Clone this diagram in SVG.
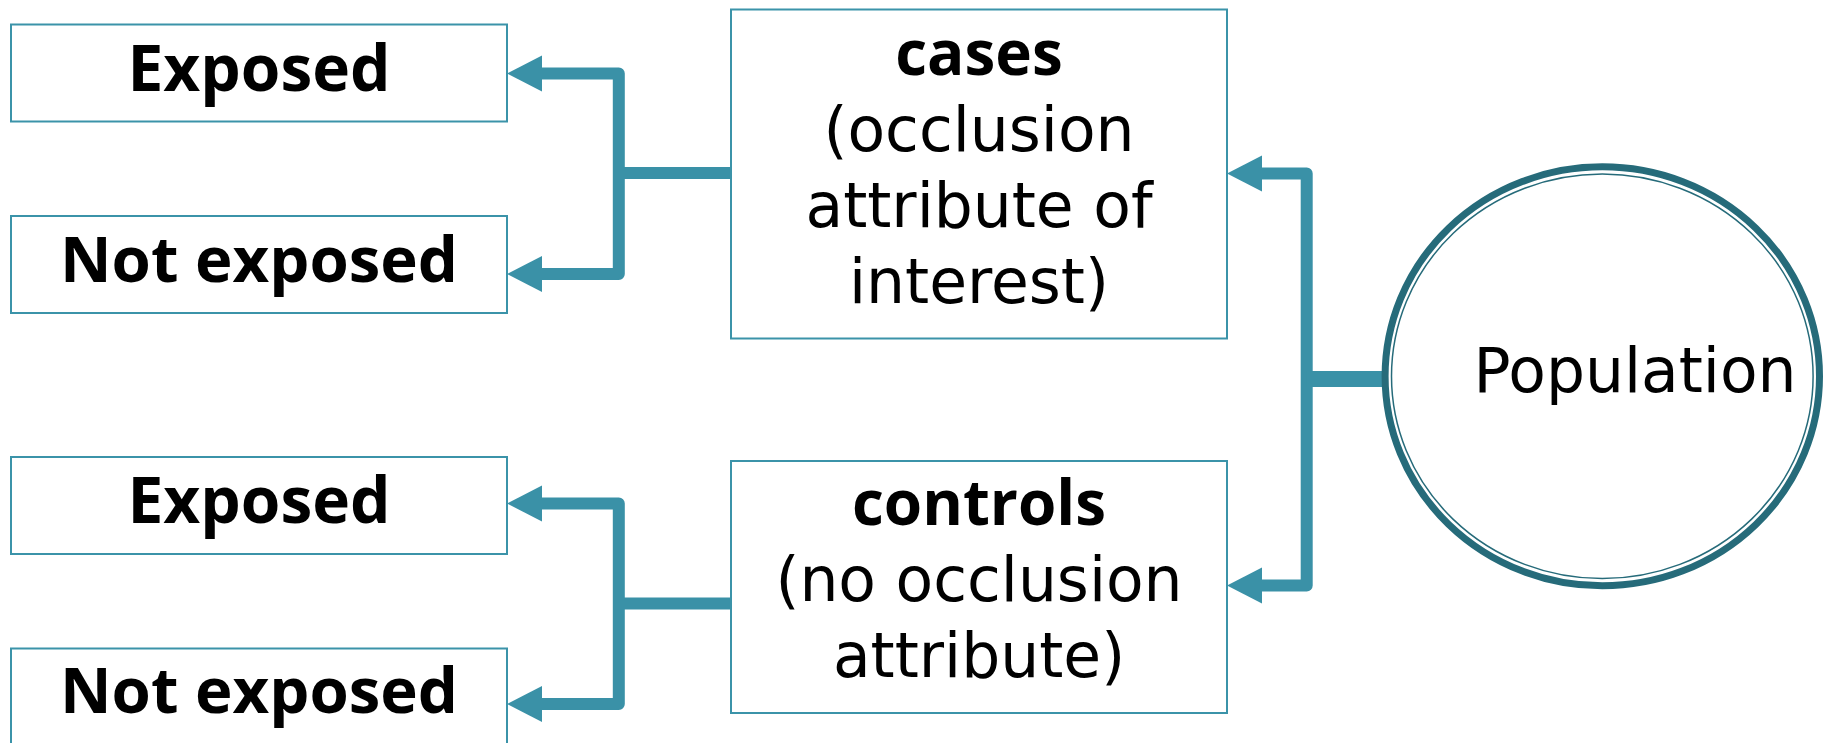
<svg xmlns="http://www.w3.org/2000/svg" width="1829" height="743" viewBox="0 0 1829 743">
  <style>
    .box { fill: #ffffff; stroke: #3b93a9; stroke-width: 2; }
    .wire { fill: none; stroke: #3a91a7; stroke-width: 12; stroke-linejoin: round; }
    .head { fill: #3a91a7; }
    .bold { font-family: "Open Sans", "Noto Sans", sans-serif; font-weight: 700; fill: #000000; text-anchor: middle; }
    .reg { font-family: "DejaVu Sans", "Noto Sans", sans-serif; font-weight: 400; fill: #000000; text-anchor: middle; font-size: 61.5px; }
  </style>
  <defs>
    <!-- left-pointing arrowhead, tip at origin -->
    <path id="head" d="M0 0 L35 -18 L35 18 Z"/>
  </defs>

  <rect width="1829" height="743" fill="#ffffff"/>

  <!-- connectors -->
  <g id="connectors">
    <path class="wire" d="M540 73.5 H618.8 V274 H540"/>
    <path class="wire" d="M618.8 173 H731"/>
    <use href="#head" class="head" x="507" y="73.5"/>
    <use href="#head" class="head" x="507" y="274"/>

    <path class="wire" d="M540 503.5 H618.8 V704 H540"/>
    <path class="wire" d="M618.8 603.5 H731"/>
    <use href="#head" class="head" x="507" y="503.5"/>
    <use href="#head" class="head" x="507" y="704"/>

    <path class="wire" d="M1260 173.5 H1306.7 V585.5 H1260"/>
    <path class="wire" d="M1306.7 379 H1386" style="stroke-width:16"/>
    <use href="#head" class="head" x="1227" y="173.5"/>
    <use href="#head" class="head" x="1227" y="585.5"/>
  </g>

  <!-- cases branch -->
  <g id="cases-exposed">
    <rect class="box" x="11" y="24.5" width="496" height="97"/>
    <text class="bold" x="259" y="91" font-size="64">Exposed</text>
  </g>
  <g id="cases-not-exposed">
    <rect class="box" x="11" y="216" width="496" height="97"/>
    <text class="bold" x="259" y="282" font-size="63.5">Not exposed</text>
  </g>
  <g id="cases">
    <rect class="box" x="731" y="9.5" width="496" height="329"/>
    <text class="bold" x="979" y="75" font-size="62">cases</text>
    <text class="reg" x="979" y="151">(occlusion</text>
    <text class="reg" x="979" y="227">attribute of</text>
    <text class="reg" x="979" y="303">interest)</text>
  </g>

  <!-- controls branch -->
  <g id="controls-exposed">
    <rect class="box" x="11" y="457" width="496" height="97"/>
    <text class="bold" x="259" y="523" font-size="64">Exposed</text>
  </g>
  <g id="controls-not-exposed">
    <rect class="box" x="11" y="648.5" width="496" height="110"/>
    <text class="bold" x="259" y="713" font-size="63.5">Not exposed</text>
  </g>
  <g id="controls">
    <rect class="box" x="731" y="461" width="496" height="252"/>
    <text class="bold" x="979" y="525" font-size="62">controls</text>
    <text class="reg" x="979" y="601">(no occlusion</text>
    <text class="reg" x="979" y="677">attribute)</text>
  </g>

  <!-- population -->
  <g id="population">
    <ellipse cx="1602.3" cy="376.3" rx="217.2" ry="209.5" fill="#ffffff" stroke="#266b7a" stroke-width="7"/>
    <ellipse cx="1602.3" cy="376.3" rx="210.8" ry="202.3" fill="none" stroke="#266b7a" stroke-width="1.5"/>
    <text class="reg" x="1635" y="392" font-size="62.5">Population</text>
  </g>
</svg>
